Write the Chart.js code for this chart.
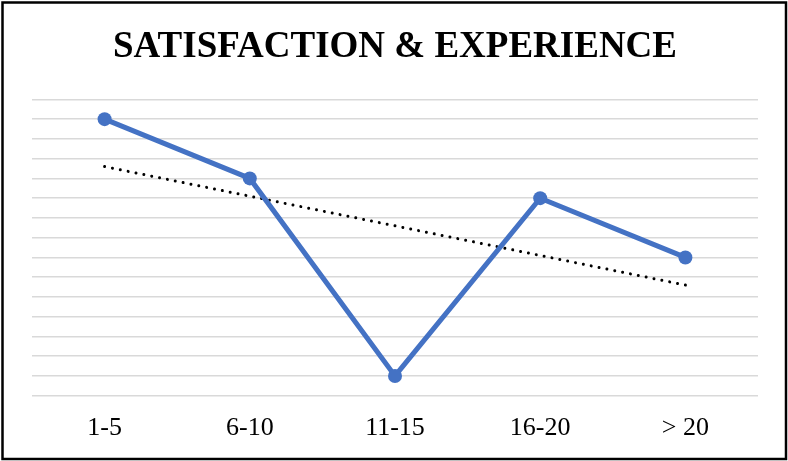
<!DOCTYPE html>
<html>
<head>
<meta charset="utf-8">
<script src="https://cdn.jsdelivr.net/npm/chart.js@4"></script>
<style>
  html, body { margin: 0; padding: 0; background: #fff; }
  #wrap { width: 788px; height: 461px; position: relative; }
</style>
</head>
<body>
<div id="wrap"><canvas id="c" width="788" height="461"></canvas></div>
<script>
// Years of experience groups and satisfaction scores
const categories = ['1-5', '6-10', '11-15', '16-20', '> 20'];
const satisfaction = [14, 11, 1, 10, 7];
// Linear trend endpoints (first and last group)
const trendEnds = [11.6, 5.6];
const yMin = 0, yMax = 15, yStep = 1;

const trendData = categories.map((_, i) =>
  i === 0 ? trendEnds[0] : (i === categories.length - 1 ? trendEnds[1] : null));

// Frame around the whole chart
const framePlugin = {
  id: 'frame',
  afterDraw(chart) {
    const ctx = chart.ctx;
    ctx.save();
    ctx.strokeStyle = '#000';
    ctx.lineWidth = 2.5;
    ctx.strokeRect(2.5, 2.5, chart.width - 4.5, chart.height - 4.5);
    ctx.restore();
  }
};

new Chart(document.getElementById('c'), {
  type: 'line',
  data: {
    labels: categories,
    datasets: [
      {
        label: 'Satisfaction',
        data: satisfaction,
        borderColor: '#4472C4',
        backgroundColor: '#4472C4',
        borderWidth: 5,
        pointRadius: 7,
        pointHoverRadius: 7,
        pointBackgroundColor: '#4472C4',
        pointBorderWidth: 0,
        tension: 0,
        order: 1
      },
      {
        label: 'Trend',
        data: trendData,
        spanGaps: true,
        borderColor: '#000',
        borderWidth: 3,
        borderDash: [0.01, 8],
        borderCapStyle: 'round',
        pointRadius: 0,
        tension: 0,
        order: 2
      }
    ]
  },
  options: {
    responsive: false,
    animation: false,
    devicePixelRatio: 1,
    layout: { padding: { left: 32, right: 30, top: 4, bottom: 0 } },
    plugins: {
      legend: { display: false },
      tooltip: { enabled: false },
      title: {
        display: true,
        text: 'SATISFACTION & EXPERIENCE',
        color: '#000',
        font: { family: 'Liberation Serif', size: 37, weight: 'bold' },
        padding: { top: 21, bottom: 30 }
      }
    },
    scales: {
      x: {
        offset: true,
        grid: { display: false, drawTicks: false },
        border: { display: false },
        ticks: {
          color: '#000',
          padding: 19,
          font: { family: 'Liberation Serif', size: 26, lineHeight: 1.05 }
        }
      },
      y: {
        min: yMin,
        max: yMax,
        grid: { color: '#d9d9d9', lineWidth: 1.5, drawTicks: false },
        border: { display: false },
        ticks: { display: false, stepSize: yStep }
      }
    }
  },
  plugins: [framePlugin]
});
</script>
</body>
</html>
